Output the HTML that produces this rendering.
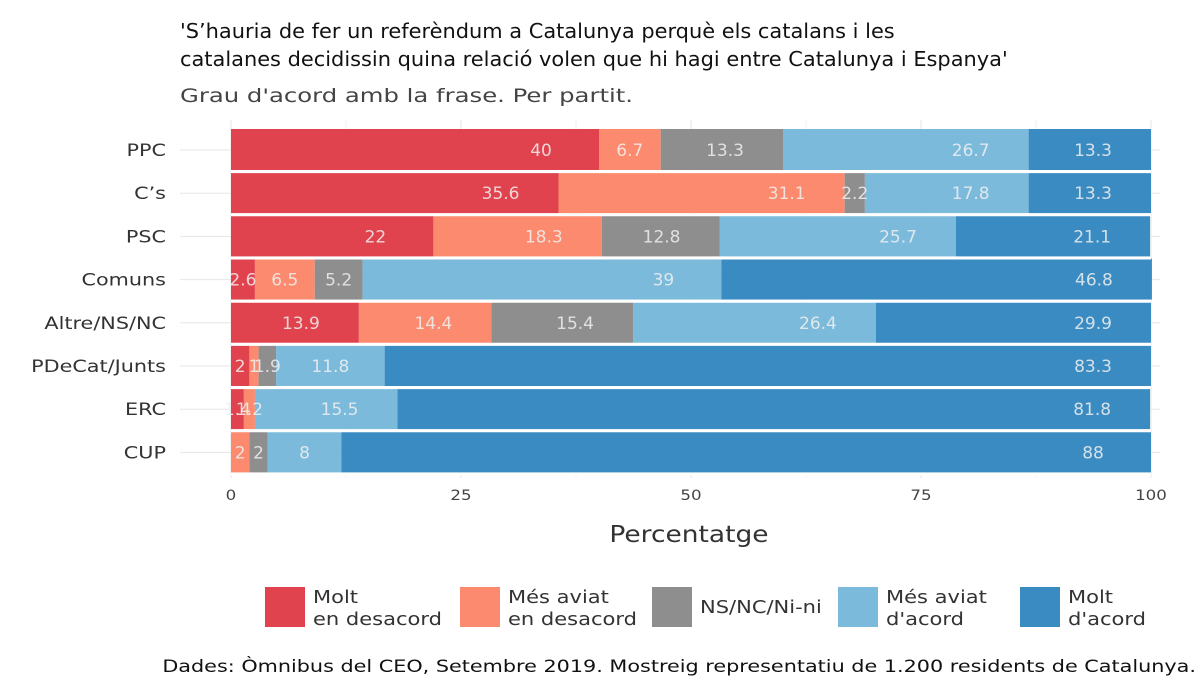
<!DOCTYPE html>
<html><head><meta charset="utf-8"><style>
body{margin:0;background:#fff;font-family:"DejaVu Sans","Liberation Sans",sans-serif;}
#wrap{position:relative;width:1200px;height:684px;overflow:hidden;}
svg text{font-family:"DejaVu Sans","Liberation Sans",sans-serif;}
</style></head><body>
<div id="wrap">
<svg id="svg" width="1200" height="684"></svg>
</div>
<script>
const categories=["PPC","C’s","PSC","Comuns","Altre/NS/NC","PDeCat/Junts","ERC","CUP"];
const moltDesacord=[40,35.6,22,2.6,13.9,2,1.4,0];
const mesDesacord=[6.7,31.1,18.3,6.5,14.4,1,1.2,2];
const nsnc=[13.3,2.2,12.8,5.2,15.4,1.9,0,2];
const mesAcord=[26.7,17.8,25.7,39,26.4,11.8,15.5,8];
const moltAcord=[13.3,13.3,21.1,46.8,29.9,83.3,81.8,88];
const xTicks=[0,25,50,75,100];
const seriesNames=["Molt\nen desacord","Més aviat\nen desacord","NS/NC/Ni-ni","Més aviat\nd'acord","Molt\nd'acord"];
const colors=["#e0434e","#fc8a6e","#8e8e8e","#7cbadb","#3a8bc2"];
const series=[moltDesacord,mesDesacord,nsnc,mesAcord,moltAcord];
const NS="http://www.w3.org/2000/svg";
const svg=document.getElementById('svg');
function el(t,a,p){const e=document.createElementNS(NS,t);for(const k in a)e.setAttribute(k,a[k]);(p||svg).appendChild(e);return e;}
const x=v=>231+v*9.2;
const y=i=>150+i*43.2;
const bh=40;
function txt(s,a,name,stretch){const e=el('text',a);e.textContent=s;
if(stretch&&stretch!==1){const w=e.getComputedTextLength();e.setAttribute('textLength',w*stretch);e.setAttribute('lengthAdjust','spacingAndGlyphs');}
return e;}
txt("'S’hauria de fer un referèndum a Catalunya perquè els catalans i les",{x:180,y:38,'font-size':20.5,fill:'#111'},'title-line-1',1.02);
txt("catalanes decidissin quina relació volen que hi hagi entre Catalunya i Espanya'",{x:180,y:66,'font-size':20.5,fill:'#111'},'title-line-2',1.02);
txt("Grau d'acord amb la frase. Per partit.",{x:180,y:102,'font-size':19,fill:'#444'},'subtitle',1.28);
for(const t of [12.5,37.5,62.5,87.5]){const g=el('line',{x1:x(t),x2:x(t),y1:120,y2:478,stroke:'#f2f2f2','stroke-width':1});}
for(const t of xTicks){const g=el('line',{x1:x(t),x2:x(t),y1:120,y2:478,stroke:'#e6e6e6','stroke-width':1});
txt(String(t),{x:x(t),y:500,'font-size':14.5,fill:'#444','text-anchor':'middle'},'x-tick-label',1.15);}
categories.forEach((c,i)=>{const g=el('line',{x1:180,x2:1160,y1:y(i),y2:y(i),stroke:'#e6e6e6'});
txt(c,{x:166,y:y(i)+6,'font-size':17,fill:'#333','text-anchor':'end'},'y-tick-label',1.22);});
categories.forEach((c,i)=>{let cum=0;series.forEach((s,j)=>{const v=s[i];if(v<=0){return;}
const r=el('rect',{x:x(cum),y:y(i)-bh/2-1,width:v*9.2,height:bh+1,fill:colors[j]});

cum+=v;});});
categories.forEach((c,i)=>{const l=el('line',{x1:231,x2:1151,y1:y(i)+21.6,y2:y(i)+21.6,stroke:'#fff','stroke-width':3});});
categories.forEach((c,i)=>{let cum=0;series.forEach((s,j)=>{const v=s[i];if(v<=0){return;}
cum+=v;const cx=Math.max(cum-6.3,cum-v/2);
txt(String(v),{x:x(cx),y:y(i)+6,'font-size':17,fill:'#f0f0f0','fill-opacity':0.85,'text-anchor':'middle'},'bar-value-label');});});
txt("Percentatge",{x:689,y:542,'font-size':23,fill:'#333','text-anchor':'middle'},'x-axis-title',1.15);
const lx=[265,460,652,838,1020];
seriesNames.forEach((n,j)=>{const r=el('rect',{x:lx[j],y:587,width:40,height:40,fill:colors[j]});
const parts=n.split('\n');
if(parts.length===1)txt(parts[0],{x:lx[j]+48,y:613,'font-size':17.5,fill:'#333'},'legend-label',1.2);
else{txt(parts[0],{x:lx[j]+48,y:603,'font-size':17.5,fill:'#333'},'legend-label',1.2);txt(parts[1],{x:lx[j]+48,y:625,'font-size':17.5,fill:'#333'},'legend-label',1.2);}});
txt("Dades: Òmnibus del CEO, Setembre 2019. Mostreig representatiu de 1.200 residents de Catalunya.",{x:1196,y:672,'font-size':17,fill:'#111','text-anchor':'end'},'caption',1.22);
</script>
</body></html>
